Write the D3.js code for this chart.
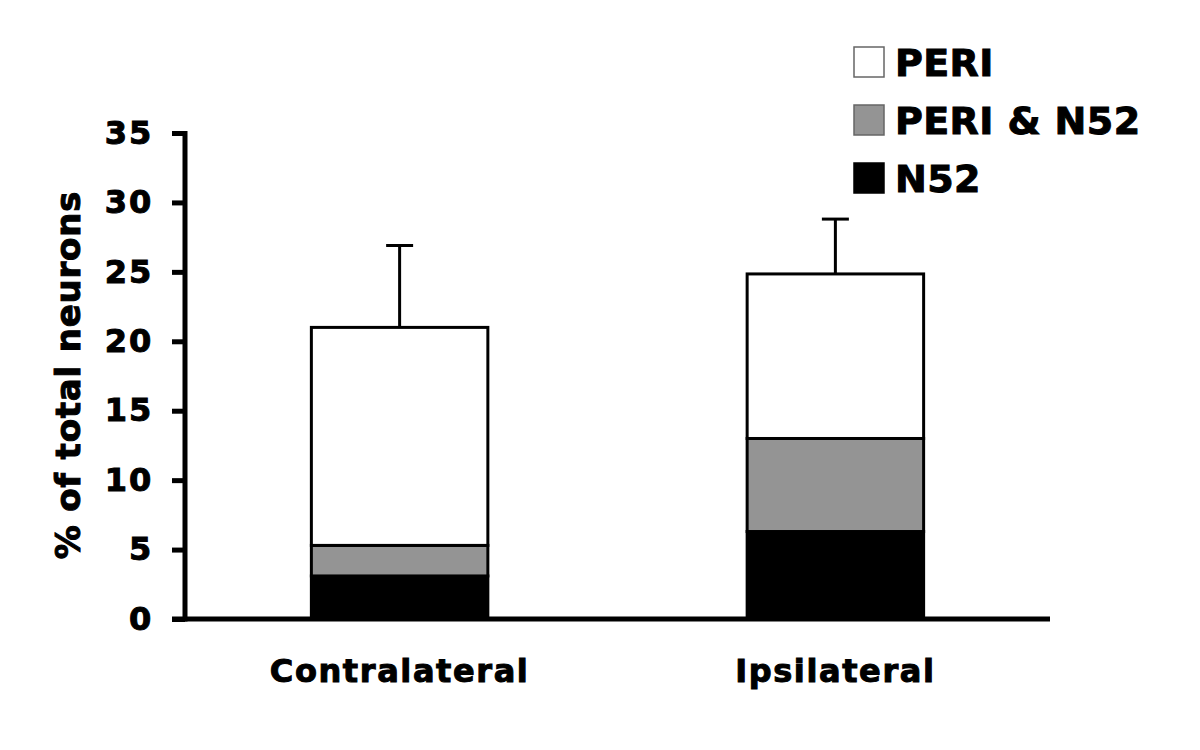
<!DOCTYPE html>
<html><head><meta charset="utf-8">
<script src="https://cdn.jsdelivr.net/npm/d3@7"></script>
<style>body{margin:0;background:#fff}svg{display:block}text{font-family:"DejaVu Sans",Verdana,sans-serif;font-weight:bold;fill:#000;stroke:#000;stroke-width:1px}</style>
</head><body>
<svg id="c" width="1200" height="750"></svg>
<script>
const categories = ["Contralateral", "Ipsilateral"];
const seriesNames = ["N52", "PERI & N52", "PERI"];
const n52 = [3.1, 6.3];
const periN52 = [2.2, 6.7];
const peri = [15.7, 11.85];
const errors = [5.9, 3.95];
const yTicks = [0, 5, 10, 15, 20, 25, 30, 35];
const colors = {"N52": "#000000", "PERI & N52": "#949494", "PERI": "#ffffff"};

const svg = d3.select("#c");
const x0 = 185, x1 = 1050;
const y = d3.scaleLinear().domain([0, 35]).range([619, 133]);
const x = d3.scaleBand().domain(categories).range([x0, x1]).paddingInner(0.595).paddingOuter(0.29);

const rows = categories.map((c, i) => ({cat: c, "N52": n52[i], "PERI & N52": periN52[i], "PERI": peri[i]}));
const stack = d3.stack().keys(seriesNames)(rows);

// bars
stack.forEach(layer => {
  svg.append("g").selectAll("rect").data(layer).join("rect")
    .attr("x", d => x(d.data.cat))
    .attr("width", x.bandwidth())
    .attr("y", d => y(d[1]))
    .attr("height", d => y(d[0]) - y(d[1]))
    .attr("fill", colors[layer.key])
    .attr("stroke", "#000")
    .attr("stroke-width", 3);
});

// error bars
const totals = rows.map(r => r["N52"] + r["PERI & N52"] + r["PERI"]);
const eg = svg.append("g");
categories.forEach((c, i) => {
  const cx = x(c) + x.bandwidth() / 2;
  eg.append("line").attr("x1", cx).attr("x2", cx)
    .attr("y1", y(totals[i])).attr("y2", y(totals[i] + errors[i]))
    .attr("stroke", "#000").attr("stroke-width", 3);
  eg.append("line").attr("x1", cx - 13.5).attr("x2", cx + 13.5)
    .attr("y1", y(totals[i] + errors[i])).attr("y2", y(totals[i] + errors[i]))
    .attr("stroke", "#000").attr("stroke-width", 3);
});

// y axis
const yAxis = d3.axisLeft(y).tickValues(yTicks).tickSize(13).tickPadding(20).tickSizeOuter(0);
const ga = svg.append("g").attr("transform", `translate(${x0},0)`).call(yAxis);
ga.select(".domain").remove();
ga.selectAll(".tick line").attr("stroke", "#000").attr("stroke-width", 5);
ga.selectAll(".tick text").attr("font-size", 32).attr("font-family", "DejaVu Sans").attr("font-weight", "bold")
  .attr("fill", "#000").attr("letter-spacing", 1.8).attr("dx", 1);
svg.append("line").attr("x1", x0).attr("x2", x0).attr("y1", y(35) - 2).attr("y2", y(0) + 2.5)
  .attr("stroke", "#000").attr("stroke-width", 5);

// x axis
const xAxis = d3.axisBottom(x).tickSize(0).tickPadding(40);
const gx = svg.append("g").attr("transform", `translate(0,${y(0)})`).call(xAxis);
gx.select(".domain").remove();
gx.selectAll(".tick text").attr("font-size", 32).attr("font-family", "DejaVu Sans").attr("font-weight", "bold")
  .attr("fill", "#000").attr("letter-spacing", 1.6);
svg.append("line").attr("x1", x0 - 13).attr("x2", x1).attr("y1", y(0)).attr("y2", y(0))
  .attr("stroke", "#000").attr("stroke-width", 5);

// y title
svg.append("text").attr("transform", `translate(80,375) rotate(-90)`)
  .attr("text-anchor", "middle").attr("font-size", 34).attr("letter-spacing", 0.8).text("% of total neurons");

// legend
const legendItems = ["PERI", "PERI & N52", "N52"];
const lg = svg.append("g").attr("transform", "translate(854,47)");
legendItems.forEach((k, i) => {
  const gy = i * 58;
  lg.append("rect").attr("x", 0).attr("y", gy).attr("width", 30).attr("height", 30)
    .attr("fill", colors[k]).attr("stroke", k === "N52" ? "#000" : "#666").attr("stroke-width", 1.5);
  lg.append("text").attr("x", 41).attr("y", gy + 29).attr("font-size", 38).attr("letter-spacing", 0.4).text(k);
});
</script>
</body></html>
